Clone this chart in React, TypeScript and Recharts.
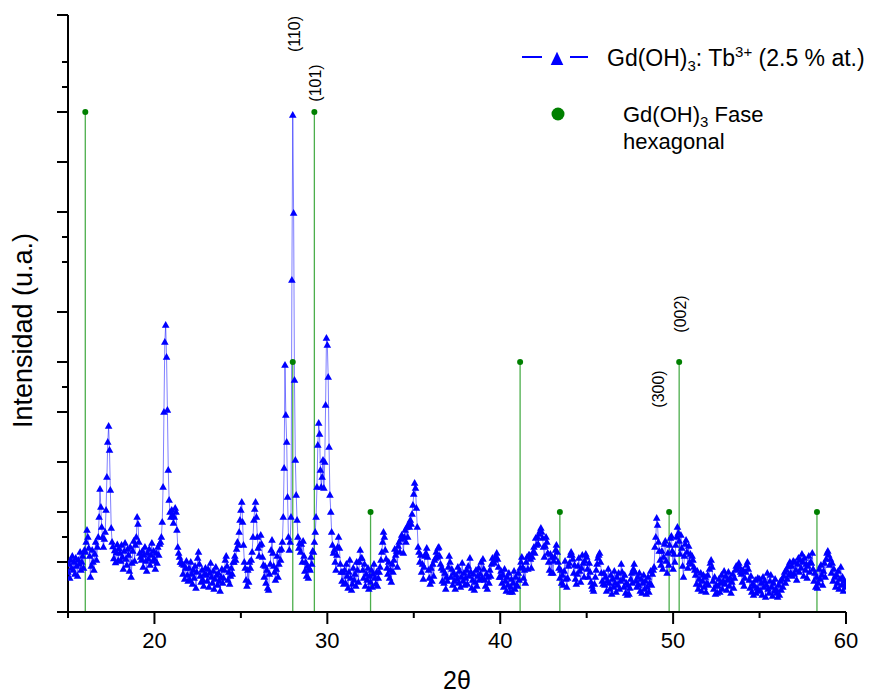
import React from "react";
import { ComposedChart, Line, XAxis, YAxis, ReferenceLine, ReferenceDot, Legend } from "recharts";

const FONT = "'Liberation Sans', Arial, Helvetica, sans-serif";
const BLUE = "#0000ff";
const GREEN_STEM = "#4cae4c";
const GREEN_DOT = "#008000";

// XRD scan grid (2θ, degrees)
const SCAN_START = 15;
const SCAN_STEP = 0.05;

// Intensity (a.u.), one row per degree (20 points per degree)
const counts15to20 = [
  80, 96, 68, 104, 88, 112, 84, 100, 76, 108, 92, 72, 104, 96, 120, 84, 100, 112, 88, 124,
  120, 140, 164, 150, 128, 112, 70, 92, 124, 100, 84, 116, 140, 104, 130, 150, 190, 246, 210, 170,
  150, 130, 146, 160, 204, 270, 340, 372, 324, 244, 168, 140, 131, 107, 123, 99, 119, 135, 103, 127,
  118, 102, 134, 110, 86, 122, 138, 106, 94, 126, 114, 82, 130, 70, 98, 122, 142, 102, 134, 150,
  190, 176, 140, 118, 110, 104, 122, 90, 114, 130, 102, 82, 118, 106, 126, 94, 114, 138, 102, 122,
];
const counts20to25 = [
  106, 86, 118, 98, 130, 114, 136, 140, 150, 180, 250, 400, 540, 574, 510, 404, 284, 224, 200, 190,
  204, 194, 178, 190, 208, 200, 164, 130, 118, 110, 100, 100, 96, 76, 94, 66, 88, 102, 74, 62,
  88, 64, 100, 76, 56, 84, 68, 92, 48, 80, 108, 120, 96, 72, 60, 84, 64, 52, 76, 88,
  74, 62, 86, 50, 78, 98, 70, 58, 82, 46, 66, 90, 74, 54, 78, 62, 42, 70, 86, 58,
  68, 84, 104, 112, 92, 64, 80, 56, 72, 88, 76, 100, 100, 112, 104, 126, 140, 134, 160, 184,
];
const counts25to30 = [
  204, 220, 180, 134, 100, 88, 64, 52, 84, 60, 100, 88, 104, 120, 150, 184, 206, 220, 190, 150,
  128, 112, 134, 154, 136, 110, 94, 70, 92, 58, 84, 48, 44, 76, 96, 124, 144, 118, 92, 80,
  64, 86, 112, 70, 96, 124, 104, 126, 140, 190, 288, 494, 394, 340, 230, 150, 124, 140, 190, 664,
  994, 798, 464, 304, 234, 184, 150, 128, 138, 120, 136, 100, 142, 112, 82, 100, 72, 92, 68, 88,
  84, 110, 96, 122, 120, 140, 160, 190, 250, 334, 378, 356, 284, 250, 270, 304, 248, 300, 414, 548,
];
const counts30to35 = [
  534, 470, 330, 234, 200, 160, 134, 118, 124, 100, 84, 114, 130, 150, 128, 96, 80, 62, 80, 56,
  84, 58, 96, 72, 48, 80, 104, 68, 44, 56, 88, 64, 76, 52, 100, 84, 60, 100, 124, 108,
  108, 84, 68, 96, 52, 76, 64, 88, 46, 72, 60, 84, 50, 76, 96, 68, 56, 80, 52, 68,
  80, 90, 104, 120, 140, 160, 150, 124, 106, 88, 76, 100, 68, 84, 60, 96, 80, 104, 126, 114,
  122, 90, 132, 140, 120, 146, 154, 148, 118, 150, 164, 140, 170, 150, 176, 170, 184, 176, 196, 214,
];
const counts35to40 = [
  236, 258, 248, 208, 170, 130, 120, 100, 114, 80, 96, 66, 90, 112, 118, 128, 110, 84, 68, 56,
  88, 62, 96, 72, 104, 108, 120, 110, 128, 130, 112, 96, 88, 62, 84, 58, 78, 46, 70, 62,
  90, 112, 100, 70, 86, 54, 78, 62, 46, 74, 66, 90, 58, 82, 50, 70, 98, 62, 78, 54,
  68, 84, 56, 92, 72, 108, 80, 48, 64, 76, 44, 60, 84, 52, 72, 88, 64, 76, 100, 68,
  106, 86, 64, 52, 76, 46, 70, 58, 84, 72, 96, 108, 100, 98, 104, 112, 118, 106, 90, 70,
];
const counts40to45 = [
  70, 82, 58, 74, 50, 86, 62, 42, 70, 54, 78, 40, 50, 66, 40, 58, 82, 46, 70, 54,
  52, 78, 64, 88, 100, 110, 90, 68, 84, 58, 100, 110, 86, 114, 114, 106, 88, 110, 120, 130,
  118, 148, 134, 150, 136, 156, 162, 168, 160, 148, 130, 110, 132, 150, 140, 118, 100, 84, 116, 78,
  110, 78, 102, 110, 124, 134, 120, 100, 88, 68, 84, 58, 74, 54, 82, 102, 66, 50, 68, 92,
  98, 114, 120, 114, 106, 78, 94, 66, 56, 76, 92, 108, 82, 60, 88, 114, 98, 70, 102, 116,
];
const counts45to50 = [
  110, 86, 70, 98, 80, 60, 52, 46, 42, 56, 70, 84, 96, 108, 114, 118, 100, 78, 62, 56,
  78, 54, 70, 42, 62, 86, 58, 46, 74, 36, 66, 50, 82, 58, 40, 70, 54, 78, 46, 62,
  96, 80, 66, 50, 74, 38, 58, 34, 54, 36, 48, 66, 78, 58, 86, 96, 80, 62, 50, 70,
  54, 78, 42, 66, 38, 58, 74, 46, 62, 36, 50, 70, 40, 58, 82, 54, 76, 84, 90, 130,
  150, 188, 174, 140, 122, 104, 94, 122, 86, 110, 136, 142, 102, 78, 118, 94, 134, 148, 152, 122,
];
const counts50to55 = [
  86, 116, 100, 134, 150, 170, 158, 142, 116, 154, 128, 92, 70, 112, 136, 144, 120, 88, 132, 100,
  116, 96, 112, 104, 90, 84, 74, 56, 82, 46, 66, 54, 78, 42, 62, 74, 50, 70, 40, 58,
  74, 54, 86, 98, 104, 90, 62, 46, 70, 36, 54, 38, 52, 66, 40, 58, 74, 46, 62, 82,
  56, 72, 44, 64, 80, 52, 68, 38, 60, 76, 48, 68, 84, 92, 86, 92, 98, 90, 80, 76,
  60, 84, 52, 68, 80, 94, 100, 86, 64, 48, 72, 40, 56, 34, 52, 64, 38, 48, 68, 44,
];
const counts55to60 = [
  66, 42, 58, 34, 70, 50, 62, 30, 54, 78, 46, 38, 62, 74, 50, 32, 58, 42, 66, 46,
  38, 30, 54, 34, 62, 44, 66, 50, 72, 80, 58, 84, 66, 92, 74, 100, 78, 92, 72, 102,
  76, 100, 84, 64, 96, 108, 80, 104, 88, 116, 100, 72, 108, 84, 96, 68, 92, 112, 80, 100,
  98, 118, 86, 62, 78, 50, 70, 48, 58, 86, 66, 94, 74, 54, 82, 98, 70, 106, 118, 122,
  114, 94, 106, 78, 98, 62, 86, 70, 50, 74, 58, 82, 46, 66, 90, 54, 70, 42, 62, 50,
];
const countsAt60 = [58];

// Reference pattern: Gd(OH)3 hexagonal phase
const refPositions = [16.0, 28.0, 29.25, 32.5, 41.15, 43.45, 49.77, 50.35, 58.32];
const refIntensities = [1000, 500, 1000, 200, 500, 200, 200, 500, 200];

// Miller index annotations
const hklTexts = ["(110)", "(101)", "(300)", "(002)"];
const hklPos = [28.1, 29.3, 49.18, 50.4];
const hklHeights = [1156, 1058, 446, 596];

// Axis ticks
const xTicks = [15, 20, 25, 30, 35, 40, 45, 50, 55, 60];
const yMajorTicks = [0, 100, 200, 300, 400, 500, 600, 800, 900, 1000, 1194];
const yMinorTicks = [150, 450, 700, 750, 1050, 1100];
const Y_MAX = 1194;

const allCounts = [
  ...counts15to20, ...counts20to25, ...counts25to30, ...counts30to35, ...counts35to40,
  ...counts40to45, ...counts45to50, ...counts50to55, ...counts55to60, ...countsAt60,
];
const data = allCounts.map((v, i) => ({ x: +(SCAN_START + i * SCAN_STEP).toFixed(2), I: v }));
const refPeaks = refPositions.map((x, i) => ({ x, y: refIntensities[i] }));
const hklLabels = hklTexts.map((t, i) => ({ t, x: hklPos[i], y: hklHeights[i] }));
const yAllTicks = [...yMajorTicks, ...yMinorTicks].sort((a, b) => a - b);

const Tri = (p: any) => {
  const { cx, cy, index } = p;
  if (cx == null || cy == null) return <g key={`t${index}`} />;
  return (
    <path
      key={`t${index}`}
      d={`M${cx},${cy - 4}L${cx + 3.8},${cy + 2.8}L${cx - 3.8},${cy + 2.8}Z`}
      fill={BLUE}
    />
  );
};

const XTick = (p: any) => {
  const { x, y, payload } = p;
  const major = payload.value % 10 === 0;
  return (
    <g>
      <line x1={x} x2={x} y1={y} y2={y + (major ? 12 : 6)} stroke="#000" strokeWidth={2} />
      {major && (
        <text x={x} y={y + 36} textAnchor="middle" fontSize={22} fontFamily={FONT} fill="#000">
          {payload.value}
        </text>
      )}
    </g>
  );
};

const YTick = (p: any) => {
  const { x, y, payload } = p;
  const major = yMajorTicks.includes(payload.value);
  return <line x1={x - (major ? 11 : 6)} x2={x} y1={y} y2={y} stroke="#000" strokeWidth={2} />;
};

const HklLabel = (p: any) => {
  const { viewBox, text } = p;
  if (!viewBox) return null;
  const cx = viewBox.x + (viewBox.width || 0) / 2;
  const cy = viewBox.y + (viewBox.height || 0) / 2;
  return (
    <text
      x={cx}
      y={cy}
      transform={`rotate(-90 ${cx} ${cy})`}
      textAnchor="middle"
      dominantBaseline="central"
      fontSize={16}
      fontFamily={FONT}
      fill="#000"
    >
      {text}
    </text>
  );
};

const XLabel = (p: any) => {
  const { viewBox } = p;
  if (!viewBox) return null;
  return (
    <text x={viewBox.x + viewBox.width / 2} y={viewBox.y + 77} textAnchor="middle" fontSize={25} fontFamily={FONT} fill="#000">
      2θ
    </text>
  );
};

const YLabel = (p: any) => {
  const { viewBox } = p;
  if (!viewBox) return null;
  const cx = viewBox.x + 24;
  const cy = viewBox.y + viewBox.height / 2 + 17;
  return (
    <text x={cx} y={cy} transform={`rotate(-90 ${cx} ${cy})`} textAnchor="middle" fontSize={27} fontFamily={FONT} fill="#000">
      Intensidad (u.a.)
    </text>
  );
};

const LegendContent = () => (
  <svg width={362} height={130} style={{ display: "block", overflow: "visible" }}>
    <line x1={12} x2={32} y1={27} y2={27} stroke={BLUE} strokeWidth={2} />
    <line x1={60} x2={78} y1={27} y2={27} stroke={BLUE} strokeWidth={2} />
    <path d="M47,21.7 L53.3,35 L40.7,35 Z" fill={BLUE} />
    <text x={97} y={35.5} fontSize={23} fontFamily={FONT} fill="#000">
      Gd(OH)<tspan fontSize={15} dy={5}>3</tspan>
      <tspan dy={-5}>: Tb</tspan>
      <tspan fontSize={15} dy={-9}>3+</tspan>
      <tspan dy={9}> (2.5 % at.)</tspan>
    </text>
    <circle cx={48} cy={84} r={6.5} fill={GREEN_DOT} />
    <text x={113} y={92} fontSize={22} fontFamily={FONT} fill="#000">
      Gd(OH)<tspan fontSize={15} dy={5}>3</tspan>
      <tspan dy={-5}> Fase</tspan>
    </text>
    <text x={113} y={119} fontSize={22} fontFamily={FONT} fill="#000">
      hexagonal
    </text>
  </svg>
);

export default function App() {
  return (
    <div style={{ position: "absolute", left: 0, top: 0, width: 872, height: 694, background: "#fff" }}>
      <ComposedChart
        width={872}
        height={694}
        data={data}
        margin={{ top: 15, right: 26, bottom: 42, left: 8 }}
      >
        <XAxis
          dataKey="x"
          type="number"
          domain={[15, 60]}
          ticks={xTicks}
          interval={0}
          allowDataOverflow
          height={40}
          tickSize={0}
          tickMargin={0}
          tickLine={false}
          axisLine={{ stroke: "#000", strokeWidth: 2 }}
          tick={<XTick />}
          label={<XLabel />}
        />
        <YAxis
          type="number"
          domain={[0, Y_MAX]}
          ticks={yAllTicks}
          interval={0}
          allowDataOverflow
          width={60}
          tickSize={0}
          tickMargin={0}
          tickLine={false}
          axisLine={{ stroke: "#000", strokeWidth: 2 }}
          tick={<YTick />}
          label={<YLabel />}
        />
        {refPeaks.map((r, i) => (
          <ReferenceLine
            key={`stem${i}`}
            segment={[{ x: r.x, y: 0 }, { x: r.x, y: r.y }]}
            stroke={GREEN_STEM}
            strokeWidth={1.3}
            zIndex={-50}
          />
        ))}
        {refPeaks.map((r, i) => (
          <ReferenceDot key={`rd${i}`} x={r.x} y={r.y} r={3} fill={GREEN_DOT} stroke="none" />
        ))}
        {hklLabels.map((h, i) => (
          <ReferenceDot
            key={`hkl${i}`}
            x={h.x}
            y={h.y}
            r={1}
            fill="none"
            stroke="none"
            label={<HklLabel text={h.t} />}
          />
        ))}
        <Line
          dataKey="I"
          name="Gd(OH)3: Tb3+ (2.5 % at.)"
          type="linear"
          stroke={BLUE}
          strokeOpacity={0.5}
          strokeWidth={1}
          dot={Tri}
          activeDot={false}
          isAnimationActive={false}
        />
        <Legend
          layout="horizontal"
          verticalAlign="middle"
          align="center"
          wrapperStyle={{ left: 510, top: 30, width: 362 }}
          content={<LegendContent />}
        />
      </ComposedChart>
    </div>
  );
}
